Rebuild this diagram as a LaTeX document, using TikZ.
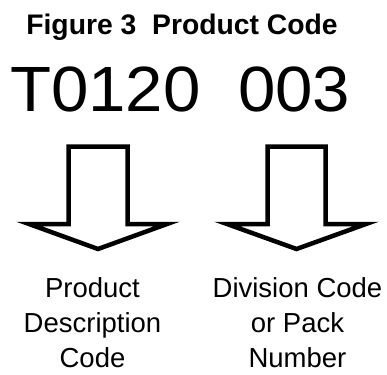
\documentclass[tikz,border=0pt]{standalone}
\usepackage{fontspec}
\setmainfont{Liberation Sans}
\begin{document}
\begin{tikzpicture}[x=1pt,y=-1pt,
  arrowshape/.style={draw=black,line width=4.5pt,line join=miter,miter limit=20,fill=white},
  labeltext/.style={inner sep=0pt,align=center,font=\fontsize{27.5}{35}\selectfont},
]
\useasboundingbox (0,0) rectangle (387,374);
\node[inner sep=0pt,anchor=base,font=\bfseries\fontsize{28.3}{33}\selectfont] (title) at (182,35) {Figure 3\ \ Product Code};
\node[inner sep=0pt,anchor=base west,xscale=1.05,font=\fontsize{64}{70}\selectfont] (code) at (10,112) {T0120\ \ 003};
% left arrow
\draw[arrowshape] (68.5,146.5) -- (127.5,146.5) -- (127.5,224) -- (167,224) -- (98,249) -- (29,224) -- (68.5,224) -- cycle;
% right arrow
\draw[arrowshape] (267.5,146.5) -- (325.5,146.5) -- (325.5,224) -- (366,224) -- (296.5,249) -- (227,224) -- (267.5,224) -- cycle;
\node[labeltext,anchor=north] (lab1) at (92.5,277.5) {Product\\Description\\Code};
\node[labeltext,anchor=north] (lab2) at (297.5,277.5) {Division Code\\or Pack\\Number};
\end{tikzpicture}
\end{document}
